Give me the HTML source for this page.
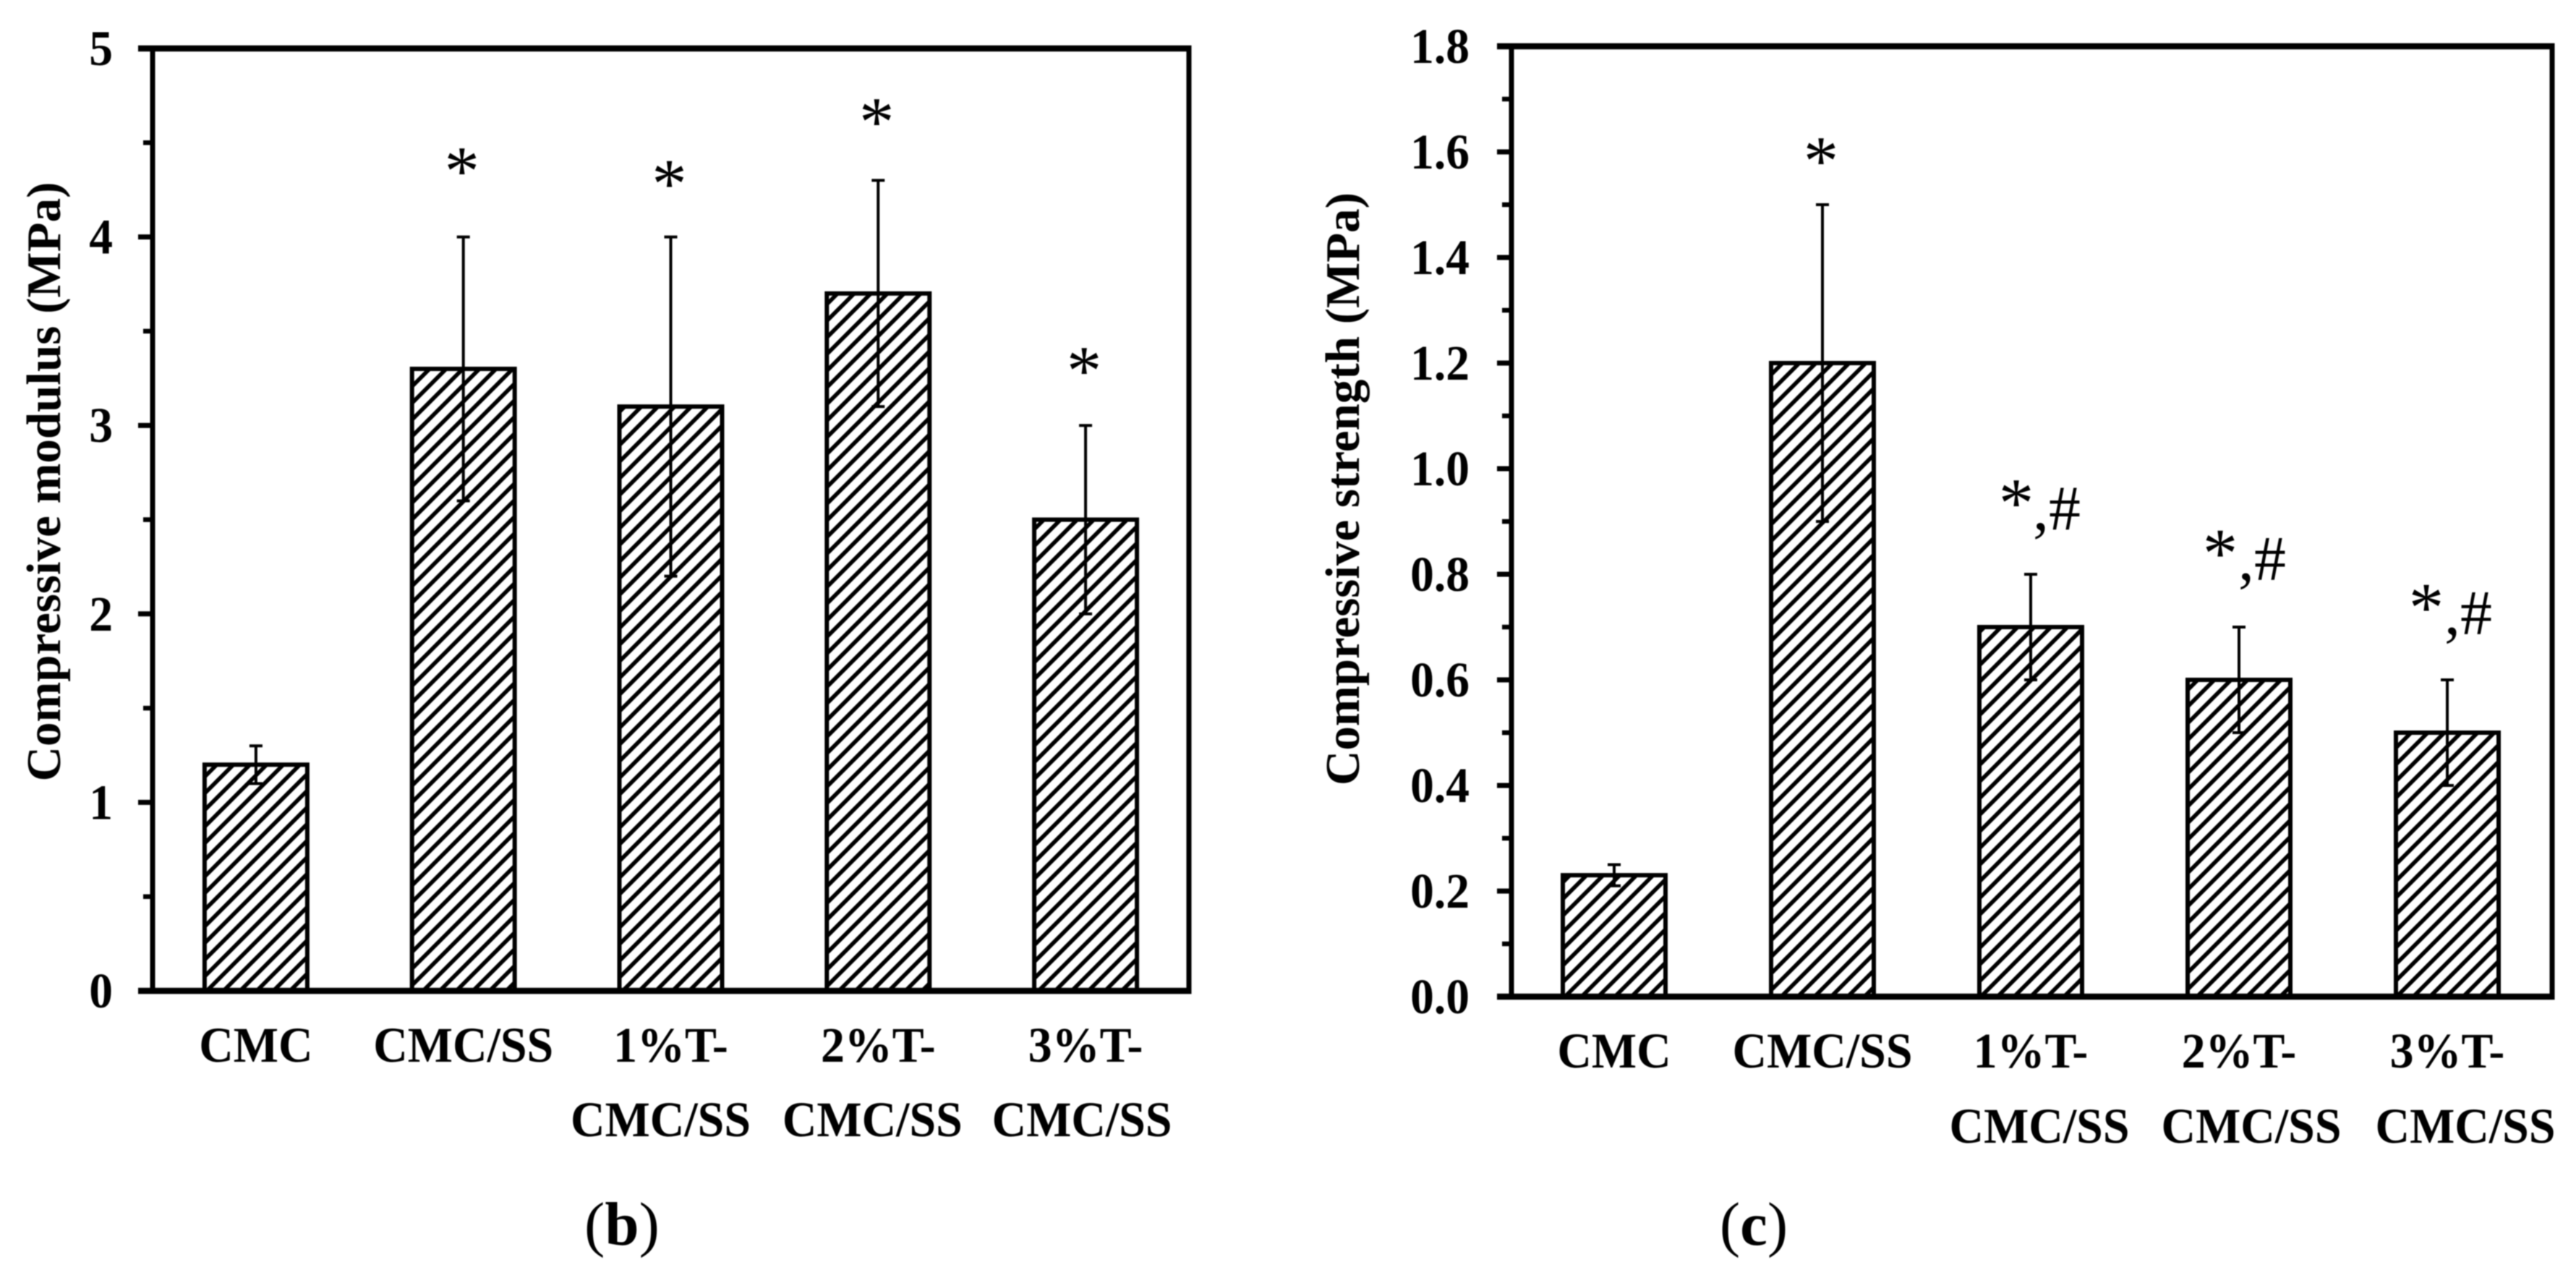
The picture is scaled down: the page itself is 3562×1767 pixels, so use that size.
<!DOCTYPE html>
<html lang="en">
<head>
<meta charset="utf-8">
<title>Compressive modulus and strength</title>
<style>
html,body{margin:0;padding:0;background:#fff;width:3562px;height:1767px;overflow:hidden}
svg{display:block;filter:blur(0.8px)}
text{font-family:"Liberation Serif","Times New Roman",serif;fill:#000}
</style>
</head>
<body>
<svg id="figure" xmlns="http://www.w3.org/2000/svg" width="3562" height="1767" viewBox="0 0 3562 1767">
  <defs>
    <pattern id="hatch" patternUnits="userSpaceOnUse" width="23" height="23">
      <rect width="23" height="23" fill="#fff"/>
      <path d="M-6 6L6 -6M-6 29L29 -6M17 29L29 17" stroke="#000" stroke-width="5.6" fill="none"/>
    </pattern>
  </defs>
  <rect width="3562" height="1767" fill="#fff"/>
</svg>
<script>
const categories = [["CMC"], ["CMC/SS"], ["1%T-", "CMC/SS"], ["2%T-", "CMC/SS"], ["3%T-", "CMC/SS"]];

const modulusValues = [1.2, 3.3, 3.1, 3.7, 2.5];
const modulusErrLow = [1.1, 2.6, 2.2, 3.1, 2.0];
const modulusErrHigh = [1.3, 4.0, 4.0, 4.3, 3.0];
const modulusTicks = ["0", "1", "2", "3", "4", "5"];
const modulusStars = ["", "*", "*", "*", "*"];
const modulusHashes = ["", "", "", "", ""];
const modulusMarkLevels = [0, 4.245, 4.176, 4.505, 3.185];

const strengthValues = [0.23, 1.2, 0.7, 0.6, 0.5];
const strengthErrLow = [0.21, 0.9, 0.6, 0.5, 0.4];
const strengthErrHigh = [0.25, 1.5, 0.8, 0.7, 0.6];
const strengthTicks = ["0.0", "0.2", "0.4", "0.6", "0.8", "1.0", "1.2", "1.4", "1.6", "1.8"];
const strengthStars = ["", "*", "*", "*", "*"];
const strengthHashes = ["", "", ",#", ",#", ",#"];
const strengthMarkLevels = [0, 1.545, 0.885, 0.79, 0.687];

const NS = "http://www.w3.org/2000/svg";
const svg = document.getElementById("figure");

function make(tag, attrs, parent) {
  const el = document.createElementNS(NS, tag);
  for (const k in attrs) el.setAttribute(k, attrs[k]);
  parent.appendChild(el);
  return el;
}

function label(parent, str, x, y, size, weight, anchor, sx, rotate) {
  const tf = "translate(" + x + " " + y + ")" + (rotate ? " rotate(-90)" : "") + " scale(" + sx + " 1)";
  const t = make("text", { transform: tf, "font-size": size, "font-weight": weight, "text-anchor": anchor }, parent);
  t.textContent = str;
  return t;
}

function drawChart(cfg) {
  const g = make("g", {}, svg);
  
  

  const yMax = Number(cfg.ticks[cfg.ticks.length - 1]);
  const yScale = v => cfg.y0 - (v / yMax) * (cfg.y0 - cfg.yTop);
  const xScale = i => cfg.bandStart + cfg.bandWidth * (i + 0.5);

  // bars and error bars
  cfg.values.forEach((v, i) => {
    const cx = xScale(i);
    const top = yScale(v);
    const bar = make("rect", { x: cx - 71, y: top, width: 142, height: cfg.y0 - top, fill: "url(#hatch)", stroke: "#000", "stroke-width": 6 }, g);
    
    

    const hi = yScale(cfg.errHigh[i]);
    const lo = yScale(cfg.errLow[i]);
    const err = make("path", {
      d: "M" + cx + " " + lo + "V" + hi + "M" + (cx - 9) + " " + hi + "H" + (cx + 9) + "M" + (cx - 9) + " " + lo + "H" + (cx + 9),
      stroke: "#000", "stroke-width": 4, fill: "none"
    }, g);
    
    

    if (cfg.stars[i]) {
      const paired = cfg.hashes[i] !== "";
      const markY = yScale(cfg.markLevels[i]);
      const star = label(g, cfg.stars[i], cx + cfg.starShift[i], paired ? markY - 4 : markY + 5, 97, "normal", "middle", 1, false);
      
      
      if (paired) {
        const hash = label(g, cfg.hashes[i], cx + cfg.hashShift[i], markY, 88, "normal", "start", 1, false);
        
        
      }
    }

    cfg.categories[i].forEach((line, j) => {
      const shift = j === 1 ? cfg.secondLineShift[i] : 0;
      const t = label(g, line, cx + shift, cfg.labelBase + j * cfg.labelGap, 69, "bold", "middle", 0.955, false);
      
      
    });
  });

  // frame
  const frame = make("path", {
    d: "M" + cfg.axisLeft + " " + cfg.yTop + "V" + cfg.y0 + "M" + cfg.axisRight + " " + cfg.yTop + "V" + cfg.y0,
    stroke: "#000", "stroke-width": 7, fill: "none"
  }, g);
  
  
  const hLines = make("path", {
    d: "M" + (cfg.axisLeft - 20) + " " + cfg.yTop + "H" + (cfg.axisRight + 3.5) + "M" + (cfg.axisLeft - 20) + " " + cfg.y0 + "H" + (cfg.axisRight + 3.5),
    stroke: "#000", "stroke-width": 8.5, fill: "none"
  }, g);
  
  

  // ticks
  cfg.ticks.forEach((tick, i) => {
    const v = Number(tick);
    const y = yScale(v);
    const mark = make("line", { x1: cfg.axisLeft - 20, x2: cfg.axisLeft, y1: y, y2: y, stroke: "#000", "stroke-width": 7 }, g);
    
    
    const t = label(g, tick, cfg.tickRight, y + 23, 69, "bold", "end", 0.95, false);
    
    
    if (i < cfg.ticks.length - 1) {
      const my = yScale((v + Number(cfg.ticks[i + 1])) / 2);
      const minor = make("line", { x1: cfg.axisLeft - 13, x2: cfg.axisLeft, y1: my, y2: my, stroke: "#000", "stroke-width": 6.5 }, g);
      
      
    }
  });

  const title = label(g, cfg.title, cfg.titleX, cfg.titleY, 67, "bold", "middle", 1, true);
  
  

  const cap = make("text", { x: cfg.captionX, y: 1721, "font-size": 85, "text-anchor": "middle" }, g);
  
  
  cap.appendChild(document.createTextNode("("));
  const bold = make("tspan", { "font-weight": "bold" }, cap);
  bold.textContent = cfg.captionLetter;
  cap.appendChild(document.createTextNode(")"));
}

drawChart({
  name: "compressive-modulus-chart", slug: "modulus", categories: categories,
  values: modulusValues, errLow: modulusErrLow, errHigh: modulusErrHigh,
  ticks: modulusTicks, stars: modulusStars, hashes: modulusHashes, markLevels: modulusMarkLevels,
  starShift: [0, -2, -2, -2, -2], hashShift: [0, 0, 0, 0, 0],
  y0: 1370, yTop: 67, bandStart: 210.5, bandWidth: 286.8,
  axisLeft: 211, axisRight: 1644, tickRight: 156,
  labelBase: 1468, labelGap: 103, secondLineShift: [0, 0, -14, -8, -5],
  title: "Compressive modulus (MPa)", titleX: 83, titleY: 666,
  captionX: 860, captionLetter: "b"
});

drawChart({
  name: "compressive-strength-chart", slug: "strength", categories: categories,
  values: strengthValues, errLow: strengthErrLow, errHigh: strengthErrHigh,
  ticks: strengthTicks, stars: strengthStars, hashes: strengthHashes, markLevels: strengthMarkLevels,
  starShift: [0, -2, -20, -26, -29], hashShift: [0, 0, 3, -1, -4],
  y0: 1378, yTop: 64, bandStart: 2088, bandWidth: 288,
  axisLeft: 2090, axisRight: 3529, tickRight: 2032,
  labelBase: 1476, labelGap: 104, secondLineShift: [0, 0, 12, 17, 25],
  title: "Compressive strength (MPa)", titleX: 1879, titleY: 676,
  captionX: 2425, captionLetter: "c"
});
</script>
</body>
</html>
